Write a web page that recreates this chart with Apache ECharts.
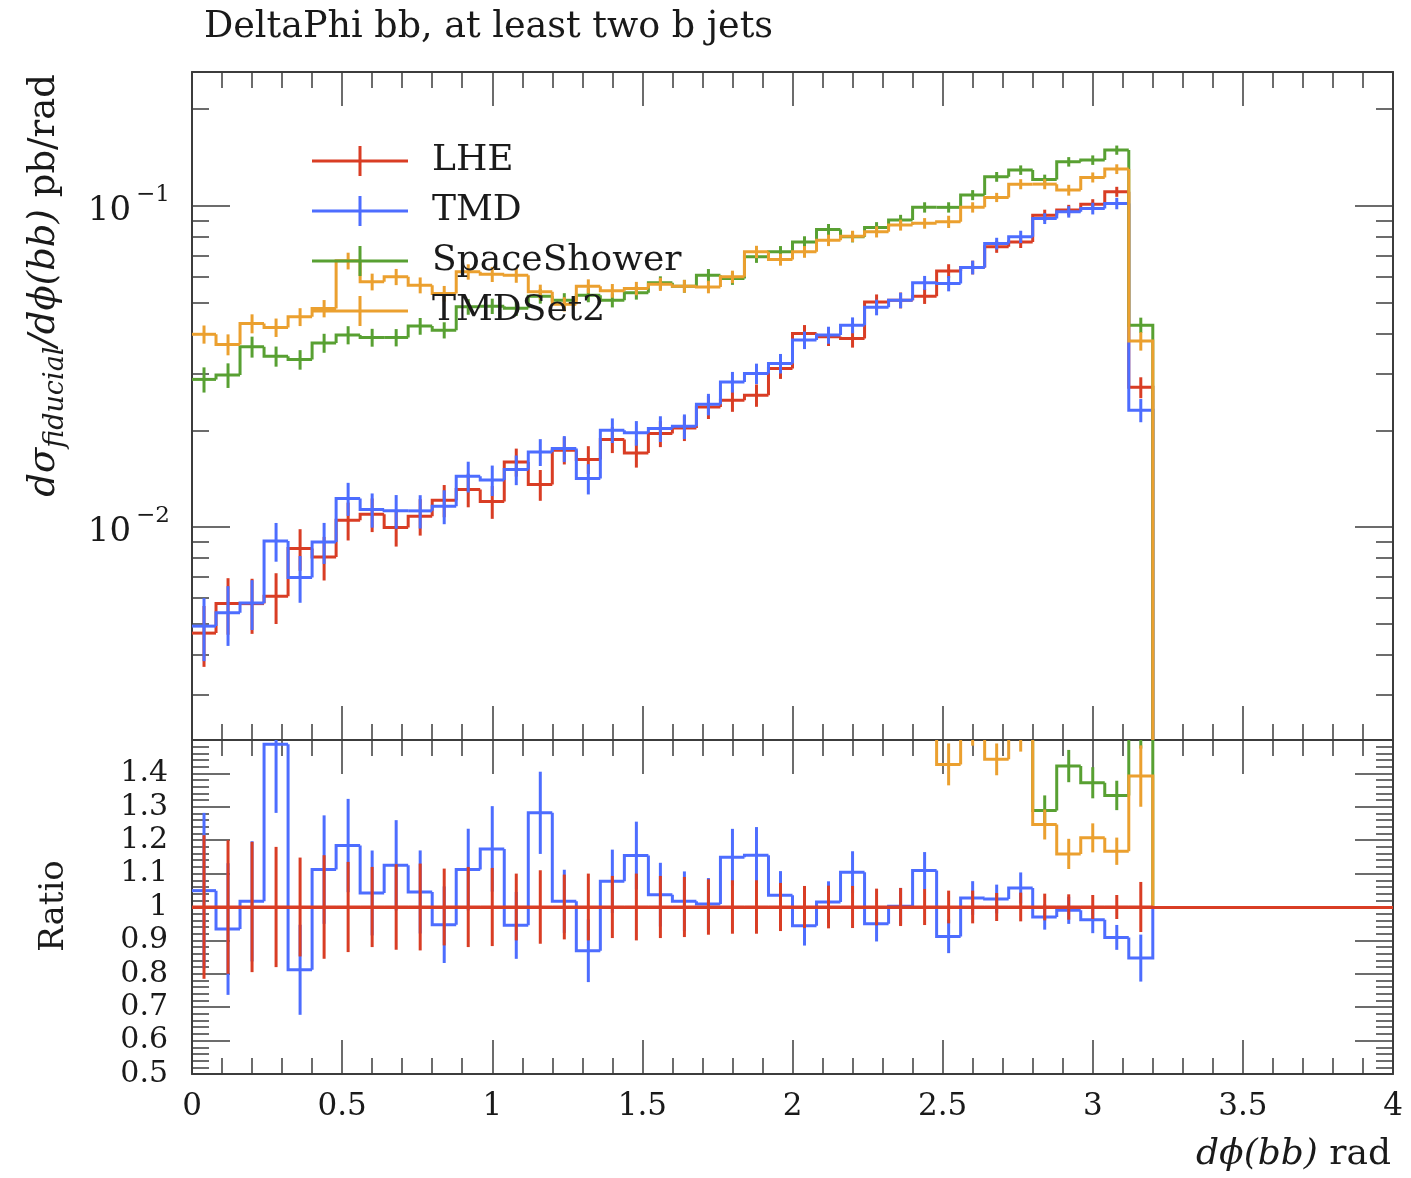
<!DOCTYPE html>
<html>
<head>
<meta charset="utf-8">
<script src="https://cdn.jsdelivr.net/npm/echarts@6/dist/echarts.min.js"></script>
<style>
  html, body { margin: 0; padding: 0; background: #ffffff; }
  #chart { width: 1411px; height: 1178px; }
</style>
</head>
<body>
<div id="chart"></div>
<script>
// Bin edges of the d-phi(bb) histogram (rad)
const binEdges = [0, 0.08, 0.16, 0.24, 0.32, 0.40, 0.48, 0.56, 0.64, 0.72, 0.80,
  0.88, 0.96, 1.04, 1.12, 1.20, 1.28, 1.36, 1.44, 1.52, 1.60, 1.68, 1.76, 1.84,
  1.92, 2.00, 2.08, 2.16, 2.24, 2.32, 2.40, 2.48, 2.56, 2.64, 2.72, 2.80, 2.88,
  2.96, 3.04, 3.12, 3.20];

// Differential cross sections, pb/rad
const lhe = [0.00467, 0.00577, 0.00577, 0.00608, 0.00857, 0.00806, 0.01049, 0.01095, 0.00996, 0.01080,
  0.01211, 0.01308, 0.01200, 0.01594, 0.01355, 0.01733, 0.01622, 0.01872, 0.01700, 0.01954,
  0.02034, 0.02364, 0.02481, 0.02572, 0.03114, 0.0400, 0.0391, 0.0386, 0.0502, 0.0508,
  0.0523, 0.0627, 0.0643, 0.0745, 0.0772, 0.0935, 0.0970, 0.1012, 0.1106, 0.0272];
const tmd = [0.00491, 0.00540, 0.00580, 0.00904, 0.00696, 0.00898, 0.01227, 0.01133, 0.01122, 0.01122,
  0.01160, 0.01438, 0.01400, 0.01509, 0.01712, 0.01755, 0.01415, 0.02001, 0.01963, 0.02025,
  0.02059, 0.02411, 0.02829, 0.03005, 0.0323, 0.0382, 0.0396, 0.0425, 0.0483, 0.0508,
  0.0576, 0.0573, 0.0643, 0.0763, 0.0801, 0.0913, 0.0958, 0.0981, 0.1017, 0.0231];
const spaceShower = [0.0288, 0.0297, 0.0364, 0.0340, 0.0332, 0.0374, 0.0396, 0.0389, 0.0389, 0.0422,
  0.0410, 0.0485, 0.0487, 0.0480, 0.0523, 0.0508, 0.0527, 0.0508, 0.0536, 0.0576,
  0.0562, 0.0608, 0.0594, 0.0694, 0.0719, 0.0772, 0.0844, 0.0801, 0.0856, 0.0903,
  0.0989, 0.0989, 0.1080, 0.1231, 0.1292, 0.1208, 0.1371, 0.1388, 0.1491, 0.0425];
const tmdSet2 = [0.0398, 0.0370, 0.0430, 0.0418, 0.0451, 0.0479, 0.0674, 0.0580, 0.0601, 0.0566,
  0.0533, 0.0623, 0.0612, 0.0608, 0.0540, 0.0494, 0.0562, 0.0544, 0.0553, 0.0570,
  0.0562, 0.0559, 0.0601, 0.0719, 0.0680, 0.0719, 0.0781, 0.0804, 0.0830, 0.0871,
  0.0882, 0.0892, 0.0989, 0.1062, 0.1168, 0.1168, 0.1119, 0.1226, 0.1301, 0.0379];

// Relative statistical uncertainties
const lheErr = [0.215, 0.200, 0.195, 0.180, 0.148, 0.155, 0.135, 0.120, 0.128, 0.130,
  0.115, 0.120, 0.117, 0.100, 0.110, 0.097, 0.100, 0.093, 0.100, 0.093,
  0.090, 0.083, 0.080, 0.080, 0.072, 0.063, 0.064, 0.063, 0.055, 0.057,
  0.054, 0.049, 0.049, 0.042, 0.043, 0.040, 0.038, 0.036, 0.036, 0.075];
const tmdErr = [0.222, 0.211, 0.177, 0.138, 0.166, 0.146, 0.118, 0.122, 0.120, 0.119,
  0.121, 0.110, 0.109, 0.106, 0.096, 0.093, 0.108, 0.088, 0.088, 0.092,
  0.088, 0.077, 0.074, 0.073, 0.070, 0.063, 0.061, 0.057, 0.056, 0.055,
  0.050, 0.055, 0.049, 0.042, 0.044, 0.039, 0.041, 0.042, 0.041, 0.083];
const spaceShowerErr = [0.090, 0.088, 0.075, 0.072, 0.070, 0.068, 0.065, 0.064, 0.062, 0.060,
  0.058, 0.056, 0.055, 0.054, 0.052, 0.052, 0.050, 0.050, 0.048, 0.047,
  0.046, 0.045, 0.045, 0.043, 0.042, 0.041, 0.040, 0.040, 0.039, 0.038,
  0.037, 0.037, 0.036, 0.035, 0.034, 0.035, 0.034, 0.034, 0.033, 0.055];
const tmdSet2Err = [0.065, 0.075, 0.068, 0.066, 0.064, 0.062, 0.060, 0.060, 0.058, 0.057,
  0.056, 0.055, 0.054, 0.053, 0.052, 0.051, 0.050, 0.049, 0.048, 0.047,
  0.046, 0.045, 0.045, 0.044, 0.043, 0.042, 0.041, 0.040, 0.040, 0.039,
  0.038, 0.044, 0.037, 0.033, 0.036, 0.036, 0.039, 0.036, 0.035, 0.066];

// Ratios to the LHE prediction
const tmdRatio = [1.049, 0.934, 1.017, 1.487, 0.812, 1.112, 1.184, 1.042, 1.125, 1.045,
  0.947, 1.112, 1.174, 0.945, 1.282, 1.017, 0.869, 1.077, 1.154, 1.037,
  1.017, 1.009, 1.149, 1.155, 1.035, 0.944, 1.015, 1.104, 0.950, 1.002,
  1.109, 0.912, 1.027, 1.024, 1.057, 0.970, 0.990, 0.962, 0.909, 0.847];
const spaceShowerRatio = [6.17, 5.15, 6.31, 5.59, 3.87, 4.64, 3.78, 3.55, 3.91, 3.91,
  3.39, 3.71, 4.06, 3.01, 3.86, 2.93, 3.25, 2.71, 3.15, 2.95,
  2.76, 2.57, 2.39, 2.70, 2.31, 1.93, 2.16, 2.08, 1.71, 1.78,
  1.89, 1.58, 1.68, 1.65, 1.67, 1.289, 1.422, 1.372, 1.334, 1.56];
const tmdSet2Ratio = [8.52, 6.41, 7.45, 6.88, 5.26, 5.94, 6.43, 5.30, 6.03, 5.24,
  4.40, 4.76, 5.10, 3.81, 3.99, 2.85, 3.46, 2.91, 3.25, 2.92,
  2.76, 2.36, 2.42, 2.80, 2.18, 1.80, 2.00, 2.08, 1.65, 1.71,
  1.69, 1.427, 1.54, 1.442, 1.52, 1.247, 1.159, 1.207, 1.167, 1.392];

// Axis ranges and ticks
const xRange = [0, 4];
const yMainRange = [0.00217, 0.261];
const yRatioRange = [0.5, 1.5];
const mainMajorTicks = [0.01, 0.1];
const mainMinorTicks = [0.003, 0.004, 0.005, 0.006, 0.007, 0.008, 0.009,
  0.02, 0.03, 0.04, 0.05, 0.06, 0.07, 0.08, 0.09, 0.2];
const ratioTickLabels = [0.5, 0.6, 0.7, 0.8, 0.9, 1, 1.1, 1.2, 1.3, 1.4];

const COLORS = { LHE: '#d93d24', TMD: '#4d6dff', SpaceShower: '#58a032', TMDSet2: '#eba02f' };
const FONT = 'DejaVu Serif';
const INK = '#1a1a1a';
const FRAME = '#3c3c3c';

// [low edge, high edge, value, rel. error, previous bin value, last-bin flag]
function histData(values, relErr) {
  return values.map((v, i) => [binEdges[i], binEdges[i + 1], v, relErr[i],
    i > 0 ? values[i - 1] : NaN, i === values.length - 1 ? 1 : 0]);
}

// Step histogram with a vertical error bar at each bin centre
function histRenderer(color, closeTo) {
  return function (params, api) {
    const lo = api.value(0), hi = api.value(1), v = api.value(2);
    const e = api.value(3), prev = api.value(4), last = api.value(5);
    const cs = params.coordSys;
    const pts = [];
    if (isFinite(prev)) pts.push(api.coord([lo, prev]));
    pts.push(api.coord([lo, v]));
    const pr = api.coord([hi, v]);
    pts.push(pr);
    if (last) {
      if (closeTo === 'bottom') pts.push([pr[0], cs.y + cs.height]);
      else pts.push(api.coord([hi, closeTo]));
    }
    const mid = (lo + hi) / 2;
    const a = api.coord([mid, v * (1 + e)]);
    const b = api.coord([mid, v * (1 - e)]);
    return {
      type: 'group',
      children: [
        { type: 'polyline', shape: { points: pts },
          style: { stroke: color, lineWidth: 3, fill: null, lineJoin: 'miter' } },
        { type: 'line', shape: { x1: a[0], y1: a[1], x2: b[0], y2: b[1] },
          style: { stroke: color, lineWidth: 3 } }
      ]
    };
  };
}

function histSeries(name, values, relErr, xIdx, yIdx, closeTo, extra) {
  return Object.assign({
    type: 'custom',
    name: name,
    xAxisIndex: xIdx,
    yAxisIndex: yIdx,
    clip: true,
    silent: true,
    itemStyle: { color: COLORS[name] },
    encode: { x: [0, 1], y: 2 },
    renderItem: histRenderer(COLORS[name], closeTo),
    data: histData(values, relErr)
  }, extra || {});
}

const lineStyle = { color: FRAME, width: 2 };
const tickStyle = { color: FRAME, width: 1.5 };

function xAxisFor(grid, position, withLabels) {
  return {
    type: 'value', gridIndex: grid, position: position,
    min: xRange[0], max: xRange[1], interval: 0.5,
    axisLine: { show: true, onZero: false, lineStyle: lineStyle },
    axisTick: { show: true, inside: true, length: 34, lineStyle: tickStyle },
    minorTick: { show: true, splitNumber: 5, length: 16, lineStyle: tickStyle },
    splitLine: { show: false }, minorSplitLine: { show: false },
    axisLabel: withLabels
      ? { show: true, margin: 17, fontFamily: FONT, fontSize: 31, color: INK }
      : { show: false }
  };
}

const lmin = Math.log10(yMainRange[0]), lmax = Math.log10(yMainRange[1]);
function logTickAxis(position, major, withLabels) {
  const vals = (major ? mainMajorTicks : mainMinorTicks).map(Math.log10);
  return {
    type: 'value', gridIndex: 0, position: position, min: lmin, max: lmax,
    axisLine: { show: major, onZero: false, lineStyle: lineStyle },
    axisTick: { show: true, inside: true, length: major ? 38 : 17, customValues: vals, lineStyle: tickStyle },
    splitLine: { show: false },
    axisLabel: withLabels ? {
      show: true, customValues: vals, margin: 22,
      formatter: v => '{b|10}{s|\u2212' + Math.round(-v) + '}',
      rich: {
        b: { fontFamily: FONT, fontSize: 34, color: INK, lineHeight: 44, verticalAlign: 'bottom' },
        s: { fontFamily: FONT, fontSize: 23, color: INK, lineHeight: 23, verticalAlign: 'top', padding: [0, 0, 0, 5] }
      }
    } : { show: false }
  };
}

function ratioAxis(position, withLabels) {
  return {
    type: 'value', gridIndex: 1, position: position,
    min: yRatioRange[0], max: yRatioRange[1], interval: 0.1,
    axisLine: { show: true, onZero: false, lineStyle: lineStyle },
    axisTick: { show: true, inside: true, length: 38, lineStyle: tickStyle },
    minorTick: { show: true, splitNumber: 5, length: 17, lineStyle: tickStyle },
    splitLine: { show: false }, minorSplitLine: { show: false },
    axisLabel: withLabels
      ? { show: true, customValues: ratioTickLabels, margin: 24, fontFamily: FONT, fontSize: 30, color: INK }
      : { show: false }
  };
}

const crossIcon = 'path://M0,13.5H96V16.5H0ZM46.5,0H49.5V30H46.5Z';

const option = {
  animation: false,
  backgroundColor: '#ffffff',
  title: {
    text: 'DeltaPhi bb, at least two b jets',
    left: 204, top: 9, padding: 0,
    textStyle: { fontFamily: FONT, fontSize: 36.5, fontWeight: 'normal', color: INK }
  },
  legend: {
    orient: 'vertical', left: 312, top: 143, padding: 0,
    itemWidth: 96, itemHeight: 30, itemGap: 14,
    icon: crossIcon, selectedMode: false,
    textStyle: { fontFamily: FONT, fontSize: 36, color: INK, lineHeight: 30, padding: [0, 0, 0, 19] },
    data: ['LHE', 'TMD', 'SpaceShower', 'TMDSet2']
  },
  grid: [
    { left: 192, top: 72, width: 1201, height: 668, containLabel: false, outerBoundsMode: 'none' },
    { left: 192, top: 740, width: 1201, height: 334, containLabel: false, outerBoundsMode: 'none' }
  ],
  xAxis: [
    xAxisFor(0, 'bottom', false),
    xAxisFor(0, 'top', false),
    xAxisFor(1, 'bottom', true),
    xAxisFor(1, 'top', false)
  ],
  yAxis: [
    { type: 'log', logBase: 10, gridIndex: 0, min: yMainRange[0], max: yMainRange[1], show: false,
      splitLine: { show: false } },
    logTickAxis('left', true, true),
    logTickAxis('left', false, false),
    logTickAxis('right', true, false),
    logTickAxis('right', false, false),
    ratioAxis('left', true),
    ratioAxis('right', false)
  ],
  graphic: [
    {
      type: 'text', x: 44, y: 74, rotation: Math.PI / 2,
      style: {
        text: '{m|d\u03c3}{sub|fiducial}{m|/d\u03d5(bb)}{r| pb/rad}',
        align: 'right', verticalAlign: 'middle',
        rich: {
          m: { fontFamily: FONT, fontStyle: 'italic', fontSize: 37, fill: INK, lineHeight: 50, verticalAlign: 'middle' },
          sub: { fontFamily: FONT, fontStyle: 'italic', fontSize: 27, fill: INK, lineHeight: 27, verticalAlign: 'bottom' },
          r: { fontFamily: FONT, fontSize: 37, fill: INK, lineHeight: 50, verticalAlign: 'middle' }
        }
      }
    },
    {
      type: 'text', x: 54, y: 906, rotation: Math.PI / 2,
      style: { text: 'Ratio', align: 'center', verticalAlign: 'middle',
        fontFamily: FONT, fontSize: 34, fill: INK }
    },
    {
      type: 'text', x: 1391, y: 1155,
      style: {
        text: '{m|d\u03d5(bb)}{r| rad}', align: 'right', verticalAlign: 'middle',
        rich: {
          m: { fontFamily: FONT, fontStyle: 'italic', fontSize: 36, fill: INK },
          r: { fontFamily: FONT, fontSize: 36, fill: INK }
        }
      }
    }
  ],
  series: [
    histSeries('LHE', lhe, lheErr, 0, 0, 'bottom'),
    histSeries('TMD', tmd, tmdErr, 0, 0, 'bottom'),
    histSeries('SpaceShower', spaceShower, spaceShowerErr, 0, 0, 'bottom'),
    histSeries('TMDSet2', tmdSet2, tmdSet2Err, 0, 0, 'bottom'),

    histSeries('TMD', tmdRatio, tmdErr, 2, 5, 1),
    histSeries('SpaceShower', spaceShowerRatio, spaceShowerErr, 2, 5, 1),
    histSeries('TMDSet2', tmdSet2Ratio, tmdSet2Err, 2, 5, 1),
    histSeries('LHE', lhe.map(v => v / v), lheErr, 2, 5, 1, {
      markLine: {
        silent: true, symbol: 'none', label: { show: false },
        lineStyle: { color: COLORS.LHE, width: 3, type: 'solid' },
        data: [{ yAxis: 1 }]
      }
    })
  ]
};

const chart = echarts.init(document.getElementById('chart'), null, { renderer: 'canvas' });
chart.setOption(option);
</script>
</body>
</html>
